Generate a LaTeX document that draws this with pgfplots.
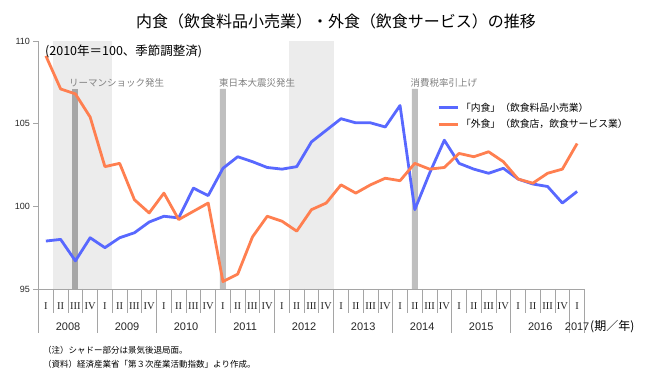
\documentclass[border=0pt]{standalone}
\usepackage{pgfplots}
\pgfplotsset{compat=1.18}
\usepackage{fontspec}
\setmainfont{Liberation Sans}
\newfontfamily\jp{Noto Sans CJK JP}
\newfontfamily\rmn{Liberation Serif}
\definecolor{naishoku}{RGB}{88,104,255}
\definecolor{gaishoku}{RGB}{255,127,80}
\definecolor{shade}{RGB}{236,236,236}
\definecolor{evdark}{RGB}{166,166,166}
\definecolor{evlight}{RGB}{191,191,191}
\definecolor{sep}{RGB}{165,165,165}
\definecolor{evtext}{RGB}{128,128,128}
\pgfplotstableread{
q naishoku gaishoku
0 97.9 109.1
1 98.0 107.1
2 96.7 106.8
3 98.1 105.4
4 97.5 102.4
5 98.1 102.6
6 98.4 100.4
7 99.05 99.6
8 99.4 100.8
9 99.3 99.2
10 101.1 99.7
11 100.65 100.2
12 102.3 95.45
13 103.0 95.9
14 102.7 98.15
15 102.35 99.4
16 102.25 99.1
17 102.4 98.5
18 103.9 99.8
19 104.6 100.2
20 105.3 101.3
21 105.05 100.8
22 105.05 101.3
23 104.8 101.7
24 106.1 101.55
25 99.8 102.6
26 102.0 102.25
27 104.0 102.35
28 102.6 103.2
29 102.25 103.0
30 102.0 103.3
31 102.3 102.7
32 101.65 101.65
33 101.35 101.4
34 101.2 102.0
35 100.2 102.25
36 100.9 103.8
}\datatable
\begin{document}
\begin{tikzpicture}
\useasboundingbox (0pt,0pt) rectangle (670pt,378pt);
\begin{axis}[
  at={(38.5pt,89pt)}, anchor=south west,
  width=546pt, height=248pt, scale only axis,
  xmin=-0.5, xmax=36.5, ymin=95, ymax=110,
  axis lines*=left,
  axis line style={sep, line width=0.8pt},
  ytick={95,100,105,110},
  xtick={0,...,36},
  xticklabels={I,II,III,IV,I,II,III,IV,I,II,III,IV,I,II,III,IV,I,II,III,IV,I,II,III,IV,I,II,III,IV,I,II,III,IV,I,II,III,IV,I},
  xtick style={draw=none},
  ytick style={sep, line width=0.8pt},
  major tick length=5pt,
  tick align=outside,
  /pgf/number format/assume math mode=true,
  yticklabel style={font=\fontsize{9}{9}\selectfont, text=black!85},
  xticklabel style={font=\rmn\fontsize{10.5}{10.5}\selectfont, text=black!85, yshift=-5pt},
  legend style={at={(0.73,0.76)}, anchor=north west, draw=none, fill=none,
    inner sep=0pt, font=\jp\fontsize{9.8}{11}\selectfont, row sep=3pt},
  legend cell align=left,
  legend image code/.code={\draw[#1] (0pt,0pt) -- (19pt,0pt);},
]
\addplot[fill=shade, draw=none, forget plot] coordinates {(0.5,110) (4.5,110)} \closedcycle;
\addplot[fill=shade, draw=none, forget plot] coordinates {(16.5,110) (19.5,110)} \closedcycle;
\addplot[ybar, bar width=6pt, bar shift=0pt, fill=evdark, draw=none, forget plot] coordinates {(2,107.1)};
\addplot[ybar, bar width=6pt, bar shift=0pt, fill=evlight, draw=none, forget plot] coordinates {(12,107.1) (25,107.1)};
\addplot[naishoku, line width=2.8pt, line join=round] table[x=q, y=naishoku] {\datatable};
\addlegendentry{「内食」（飲食料品小売業）}
\addplot[gaishoku, line width=2.8pt, line join=round] table[x=q, y=gaishoku] {\datatable};
\addlegendentry{「外食」（飲食店，飲食サービス業）}
\end{axis}
% category table separators
\foreach \k in {1,2,3,5,6,7,9,10,11,13,14,15,17,18,19,21,22,23,25,26,27,29,30,31,33,34,35}
  \draw[sep, line width=0.8pt] ({38.5pt+14.7568pt*\k},89pt) -- ++(0pt,-24pt);
\foreach \k in {0,4,8,12,16,20,24,28,32,36,37}
  \draw[sep, line width=0.8pt] ({38.5pt+14.7568pt*\k},89pt) -- ++(0pt,-44pt);
\foreach \yr [count=\j from 0] in {2008,2009,2010,2011,2012,2013,2014,2015,2016}
  \node[font=\fontsize{11}{11}\selectfont, text=black!85] at ({38.5pt+14.7568pt*(4*\j+2)},51pt) {\yr};
\node[font=\fontsize{11}{11}\selectfont, text=black!85] at ({38.5pt+14.7568pt*36.5},51pt) {2017};
\node[font=\jp\fontsize{12}{12}\selectfont, anchor=west, inner sep=0pt] at (590pt,51pt) {(期／年)};
% titles
\node[font=\jp\fontsize{16}{16}\selectfont] at (336pt,357pt) {内食（飲食料品小売業）・外食（飲食サービス）の推移};
\node[font=\jp\fontsize{12.5}{12.5}\selectfont, anchor=west, inner sep=0pt] at (45pt,327pt) {(2010年＝100、季節調整済)};
% event labels
\node[font=\jp\fontsize{9.5}{9.5}\selectfont, text=evtext, anchor=west, inner sep=0pt] at (69pt,295pt) {リーマンショック発生};
\node[font=\jp\fontsize{9.5}{9.5}\selectfont, text=evtext, anchor=west, inner sep=0pt] at (219pt,295pt) {東日本大震災発生};
\node[font=\jp\fontsize{9.5}{9.5}\selectfont, text=evtext, anchor=west, inner sep=0pt] at (410.5pt,295pt) {消費税率引上げ};
% notes
\node[font=\jp\fontsize{8.5}{8.5}\selectfont, anchor=west, inner sep=0pt] at (43pt,28pt) {（注）シャドー部分は景気後退局面。};
\node[font=\jp\fontsize{8.5}{8.5}\selectfont, anchor=west, inner sep=0pt] at (43pt,14pt) {（資料）経済産業省「第３次産業活動指数」より作成。};
\end{tikzpicture}
\end{document}
